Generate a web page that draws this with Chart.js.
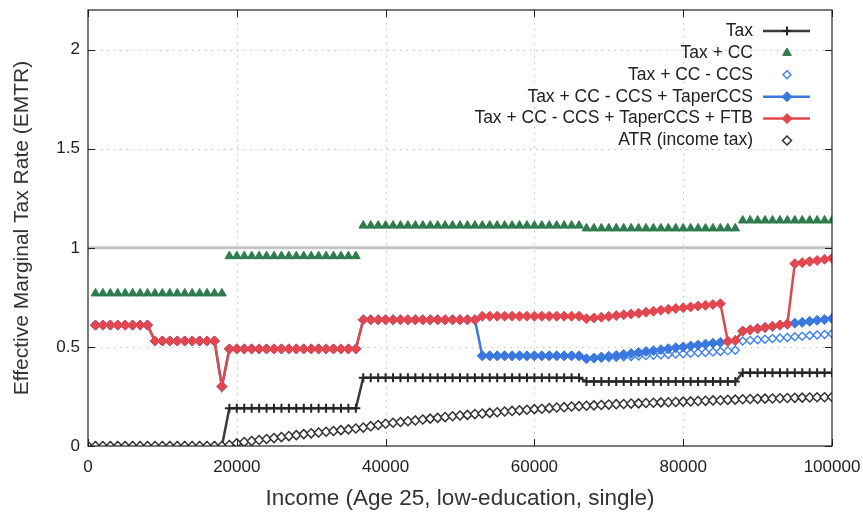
<!DOCTYPE html>
<html>
<head>
<meta charset="utf-8">
<script src="https://cdn.jsdelivr.net/npm/chart.js@4/dist/chart.umd.min.js"></script>
<style>
  html, body { margin: 0; padding: 0; background: #fff; }
  #wrap { width: 863px; height: 512px; }
</style>
</head>
<body>
<div id="wrap"><canvas id="myChart" width="863" height="512"></canvas></div>
<script>
// income grid (one point every 1000)
const incomes = [
  0, 1000, 2000, 3000, 4000, 5000, 6000, 7000, 8000, 9000,
  10000, 11000, 12000, 13000, 14000, 15000, 16000, 17000, 18000, 19000,
  20000, 21000, 22000, 23000, 24000, 25000, 26000, 27000, 28000, 29000,
  30000, 31000, 32000, 33000, 34000, 35000, 36000, 37000, 38000, 39000,
  40000, 41000, 42000, 43000, 44000, 45000, 46000, 47000, 48000, 49000,
  50000, 51000, 52000, 53000, 54000, 55000, 56000, 57000, 58000, 59000,
  60000, 61000, 62000, 63000, 64000, 65000, 66000, 67000, 68000, 69000,
  70000, 71000, 72000, 73000, 74000, 75000, 76000, 77000, 78000, 79000,
  80000, 81000, 82000, 83000, 84000, 85000, 86000, 87000, 88000, 89000,
  90000, 91000, 92000, 93000, 94000, 95000, 96000, 97000, 98000, 99000,
  100000
];

const tax = [
  0, 0, 0, 0, 0, 0, 0, 0, 0, 0,
  0, 0, 0, 0, 0, 0, 0, 0, 0, 0.19,
  0.19, 0.19, 0.19, 0.19, 0.19, 0.19, 0.19, 0.19, 0.19, 0.19,
  0.19, 0.19, 0.19, 0.19, 0.19, 0.19, 0.19, 0.345, 0.345, 0.345,
  0.345, 0.345, 0.345, 0.345, 0.345, 0.345, 0.345, 0.345, 0.345, 0.345,
  0.345, 0.345, 0.345, 0.345, 0.345, 0.345, 0.345, 0.345, 0.345, 0.345,
  0.345, 0.345, 0.345, 0.345, 0.345, 0.345, 0.345, 0.325, 0.325, 0.325,
  0.325, 0.325, 0.325, 0.325, 0.325, 0.325, 0.325, 0.325, 0.325, 0.325,
  0.325, 0.325, 0.325, 0.325, 0.325, 0.325, 0.325, 0.325, 0.37, 0.37,
  0.37, 0.37, 0.37, 0.37, 0.37, 0.37, 0.37, 0.37, 0.37, 0.37,
  0.37
];

const taxCC = [
  null, 0.77, 0.77, 0.77, 0.77, 0.77, 0.77, 0.77, 0.77, 0.77,
  0.77, 0.77, 0.77, 0.77, 0.77, 0.77, 0.77, 0.77, 0.77, 0.958,
  0.958, 0.958, 0.958, 0.958, 0.958, 0.958, 0.958, 0.958, 0.958, 0.958,
  0.958, 0.958, 0.958, 0.958, 0.958, 0.958, 0.958, 1.112, 1.112, 1.112,
  1.112, 1.112, 1.112, 1.112, 1.112, 1.112, 1.112, 1.112, 1.112, 1.112,
  1.112, 1.112, 1.112, 1.112, 1.112, 1.112, 1.112, 1.112, 1.112, 1.112,
  1.112, 1.112, 1.112, 1.112, 1.112, 1.112, 1.112, 1.098, 1.098, 1.098,
  1.098, 1.098, 1.098, 1.098, 1.098, 1.098, 1.098, 1.098, 1.098, 1.098,
  1.098, 1.098, 1.098, 1.098, 1.098, 1.098, 1.098, 1.098, 1.138, 1.138,
  1.138, 1.138, 1.138, 1.138, 1.138, 1.138, 1.138, 1.138, 1.138, 1.138,
  1.138
];

const taxCCminusCCS = [
  null, 0.61, 0.61, 0.61, 0.61, 0.61, 0.61, 0.61, 0.61, 0.53,
  0.53, 0.53, 0.53, 0.53, 0.53, 0.53, 0.53, 0.53, 0.30, 0.49,
  0.49, 0.49, 0.49, 0.49, 0.49, 0.49, 0.49, 0.49, 0.49, 0.49,
  0.49, 0.49, 0.49, 0.49, 0.49, 0.49, 0.49, 0.637, 0.637, 0.637,
  0.637, 0.637, 0.637, 0.637, 0.637, 0.637, 0.637, 0.637, 0.637, 0.637,
  0.637, 0.637, 0.637, 0.455, 0.455, 0.455, 0.455, 0.455, 0.455, 0.455,
  0.455, 0.455, 0.455, 0.455, 0.455, 0.455, 0.455, 0.440, 0.442, 0.444,
  0.446, 0.448, 0.450, 0.452, 0.454, 0.456, 0.458, 0.460, 0.462, 0.464,
  0.466, 0.468, 0.470, 0.472, 0.474, 0.477, 0.480, 0.483, 0.530, 0.533,
  0.536, 0.539, 0.542, 0.545, 0.548, 0.551, 0.554, 0.557, 0.560, 0.563,
  0.566
];

const taperCCS = [
  null, 0.61, 0.61, 0.61, 0.61, 0.61, 0.61, 0.61, 0.61, 0.53,
  0.53, 0.53, 0.53, 0.53, 0.53, 0.53, 0.53, 0.53, 0.30, 0.49,
  0.49, 0.49, 0.49, 0.49, 0.49, 0.49, 0.49, 0.49, 0.49, 0.49,
  0.49, 0.49, 0.49, 0.49, 0.49, 0.49, 0.49, 0.637, 0.637, 0.637,
  0.637, 0.637, 0.637, 0.637, 0.637, 0.637, 0.637, 0.637, 0.637, 0.637,
  0.637, 0.637, 0.637, 0.455, 0.455, 0.455, 0.455, 0.455, 0.455, 0.455,
  0.455, 0.455, 0.455, 0.455, 0.455, 0.455, 0.455, 0.440, 0.444, 0.449,
  0.453, 0.457, 0.462, 0.467, 0.472, 0.477, 0.481, 0.486, 0.491, 0.496,
  0.500, 0.505, 0.509, 0.514, 0.519, 0.523, 0.528, 0.532, 0.580, 0.586,
  0.592, 0.598, 0.604, 0.610, 0.615, 0.620, 0.624, 0.629, 0.634, 0.638,
  0.643
];

const taperFTB = [
  null, 0.61, 0.61, 0.61, 0.61, 0.61, 0.61, 0.61, 0.61, 0.53,
  0.53, 0.53, 0.53, 0.53, 0.53, 0.53, 0.53, 0.53, 0.30, 0.49,
  0.49, 0.49, 0.49, 0.49, 0.49, 0.49, 0.49, 0.49, 0.49, 0.49,
  0.49, 0.49, 0.49, 0.49, 0.49, 0.49, 0.49, 0.637, 0.637, 0.637,
  0.637, 0.637, 0.637, 0.637, 0.637, 0.637, 0.637, 0.637, 0.637, 0.637,
  0.637, 0.637, 0.637, 0.655, 0.655, 0.655, 0.655, 0.655, 0.655, 0.655,
  0.655, 0.655, 0.655, 0.655, 0.655, 0.655, 0.655, 0.642, 0.646, 0.650,
  0.654, 0.658, 0.662, 0.666, 0.670, 0.675, 0.680, 0.685, 0.690, 0.694,
  0.698, 0.702, 0.706, 0.710, 0.714, 0.718, 0.528, 0.532, 0.580, 0.586,
  0.592, 0.598, 0.604, 0.610, 0.615, 0.920, 0.925, 0.931, 0.936, 0.942,
  0.947
];

const atr = [
  0, 0, 0, 0, 0, 0, 0, 0, 0, 0,
  0, 0, 0, 0, 0, 0, 0, 0, 0, 0.005,
  0.014, 0.020, 0.025, 0.030, 0.035, 0.040, 0.045, 0.050, 0.055, 0.060,
  0.064, 0.068, 0.072, 0.076, 0.080, 0.084, 0.088, 0.093, 0.100, 0.106,
  0.112, 0.117, 0.121, 0.125, 0.129, 0.134, 0.138, 0.142, 0.146, 0.150,
  0.154, 0.157, 0.161, 0.164, 0.167, 0.170, 0.174, 0.177, 0.180, 0.183,
  0.186, 0.188, 0.191, 0.194, 0.196, 0.199, 0.201, 0.203, 0.205, 0.207,
  0.209, 0.211, 0.212, 0.214, 0.215, 0.217, 0.218, 0.220, 0.221, 0.222,
  0.224, 0.225, 0.227, 0.228, 0.230, 0.231, 0.233, 0.234, 0.236, 0.237,
  0.238, 0.239, 0.240, 0.241, 0.242, 0.243, 0.244, 0.245, 0.246, 0.246,
  0.247
];

// reference line at EMTR = 1
const refLineX = [0, 100000];
const refLineY = [1, 1];

const xTicks = [0, 20000, 40000, 60000, 80000, 100000];
const yTicks = [0, 0.5, 1, 1.5, 2];

const FONT = "'Liberation Sans', Arial, sans-serif";

function pts(xs, ys) {
  return xs.map((x, i) => ({ x: x, y: ys[i] }));
}

// dotted grid, frame, inward ticks, legend
const gnuplotLook = {
  id: "gnuplotLook",
  beforeDatasetsDraw(chart) {
    const { ctx, chartArea: a, scales } = chart;
    ctx.save();
    ctx.strokeStyle = "#c2c2c2";
    ctx.lineWidth = 1;
    ctx.setLineDash([1.5, 5]);
    xTicks.slice(1, -1).forEach((v) => {
      const px = Math.round(scales.x.getPixelForValue(v)) + 0.5;
      ctx.beginPath(); ctx.moveTo(px, a.top); ctx.lineTo(px, a.bottom); ctx.stroke();
    });
    yTicks.slice(1).forEach((v) => {
      const py = Math.round(scales.y.getPixelForValue(v)) + 0.5;
      ctx.beginPath(); ctx.moveTo(a.left, py); ctx.lineTo(a.right, py); ctx.stroke();
    });
    ctx.restore();
  },
  afterDatasetsDraw(chart) {
    const { ctx, chartArea: a, scales } = chart;
    ctx.save();
    ctx.strokeStyle = "#222";
    ctx.lineWidth = 1.2;
    ctx.strokeRect(a.left, a.top, a.right - a.left, a.bottom - a.top);
    ctx.lineWidth = 1;
    const tl = 7;
    xTicks.forEach((v) => {
      const px = Math.round(scales.x.getPixelForValue(v)) + 0.5;
      ctx.beginPath();
      ctx.moveTo(px, a.bottom); ctx.lineTo(px, a.bottom - tl);
      ctx.moveTo(px, a.top); ctx.lineTo(px, a.top + tl);
      ctx.stroke();
    });
    yTicks.forEach((v) => {
      const py = Math.round(scales.y.getPixelForValue(v)) + 0.5;
      ctx.beginPath();
      ctx.moveTo(a.left, py); ctx.lineTo(a.left + tl, py);
      ctx.moveTo(a.right, py); ctx.lineTo(a.right - tl, py);
      ctx.stroke();
    });

    // legend
    ctx.font = "17.5px " + FONT;
    ctx.textAlign = "right";
    ctx.textBaseline = "middle";
    let row = 0;
    chart.data.datasets.forEach((ds) => {
      if (!ds.label) return;
      const y = 31 + row * 21.9;
      ctx.fillStyle = "#222";
      ctx.fillText(ds.label, 753, y);
      if (ds.showLine !== false) {
        ctx.strokeStyle = ds.borderColor;
        ctx.lineWidth = ds.borderWidth;
        ctx.beginPath(); ctx.moveTo(763, y); ctx.lineTo(810, y); ctx.stroke();
      }
      ctx.fillStyle = ds.pointBackgroundColor;
      ctx.strokeStyle = ds.pointBorderColor;
      ctx.lineWidth = ds.pointBorderWidth;
      Chart.helpers.drawPoint(ctx, {
        pointStyle: ds.pointStyle, radius: ds.pointRadius, rotation: 0,
        borderWidth: ds.pointBorderWidth
      }, 787, y);
      row++;
    });
    ctx.restore();
  }
};

const ctx = document.getElementById("myChart");

new Chart(ctx, {
  type: "line",
  data: {
    datasets: [
      {
        label: "Tax",
        data: pts(incomes, tax),
        borderColor: "rgba(38,38,38,0.9)",
        borderWidth: 2.5,
        pointStyle: "cross",
        pointRadius: 4.5,
        pointBorderWidth: 2,
        pointBackgroundColor: "#262626",
        pointBorderColor: "#262626",
        order: 6
      },
      {
        label: "Tax + CC",
        data: pts(incomes, taxCC),
        showLine: false,
        pointStyle: "triangle",
        pointRadius: 5,
        pointBorderWidth: 1,
        pointBackgroundColor: "#2e7c4e",
        pointBorderColor: "#2e7c4e",
        borderColor: "#2e7c4e",
        order: 5
      },
      {
        label: "Tax + CC - CCS",
        data: pts(incomes, taxCCminusCCS),
        showLine: false,
        pointStyle: "rectRot",
        pointRadius: 4,
        pointBorderWidth: 1.4,
        pointBackgroundColor: "#ffffff",
        pointBorderColor: "#3f80ea",
        borderColor: "#3f80ea",
        order: 4
      },
      {
        label: "Tax + CC - CCS + TaperCCS",
        data: pts(incomes, taperCCS),
        borderColor: "#3a78e0",
        borderWidth: 2.5,
        pointStyle: "rectRot",
        pointRadius: 5,
        pointBorderWidth: 1,
        pointBackgroundColor: "#3a78e0",
        pointBorderColor: "#3a78e0",
        order: 3
      },
      {
        label: "Tax + CC - CCS + TaperCCS + FTB",
        data: pts(incomes, taperFTB),
        borderColor: "#e2474f",
        borderWidth: 2.5,
        pointStyle: "rectRot",
        pointRadius: 5,
        pointBorderWidth: 1,
        pointBackgroundColor: "#e2474f",
        pointBorderColor: "#e2474f",
        order: 2
      },
      {
        label: "ATR (income tax)",
        data: pts(incomes, atr),
        showLine: false,
        pointStyle: "rectRot",
        pointRadius: 4.5,
        pointBorderWidth: 1.5,
        pointBackgroundColor: "#ffffff",
        pointBorderColor: "#333333",
        borderColor: "#333333",
        order: 1
      },
      {
        label: "",
        data: pts(refLineX, refLineY),
        borderColor: "#c4c4c4",
        borderWidth: 3,
        pointRadius: 0,
        order: 7
      }
    ]
  },
  options: {
    responsive: false,
    animation: false,
    layout: { padding: { top: 10, right: 31, left: 0, bottom: 0 } },
    plugins: {
      legend: { display: false },
      tooltip: { enabled: false }
    },
    scales: {
      x: {
        type: "linear",
        min: 0,
        max: 100000,
        grid: { display: false, drawTicks: false, tickLength: 0 },
        border: { display: false },
        afterBuildTicks: (s) => { s.ticks = xTicks.map((v) => ({ value: v })); },
        afterFit: (s) => { s.height = 66; s.paddingLeft = 0; s.paddingRight = 0; },
        ticks: {
          autoSkip: false,
          maxRotation: 0,
          padding: 11,
          color: "#222",
          font: { family: FONT, size: 17 },
          callback: (v) => String(v)
        },
        title: {
          display: true,
          text: "Income (Age 25, low-education, single)",
          color: "#333",
          font: { family: FONT, size: 22.5 },
          padding: { top: 0, bottom: 0 }
        }
      },
      y: {
        min: 0,
        max: 2.2,
        grid: { display: false, drawTicks: false, tickLength: 0 },
        border: { display: false },
        afterBuildTicks: (s) => { s.ticks = yTicks.map((v) => ({ value: v })); },
        afterFit: (s) => { s.width = 88; s.paddingTop = 0; s.paddingBottom = 0; },
        ticks: {
          padding: 8,
          color: "#222",
          font: { family: FONT, size: 17 },
          callback: (v) => String(v)
        },
        title: {
          display: true,
          text: "Effective Marginal Tax Rate (EMTR)",
          color: "#333",
          font: { family: FONT, size: 21 },
          padding: { top: 10, bottom: 0 }
        }
      }
    }
  },
  plugins: [gnuplotLook]
});
</script>
</body>
</html>
